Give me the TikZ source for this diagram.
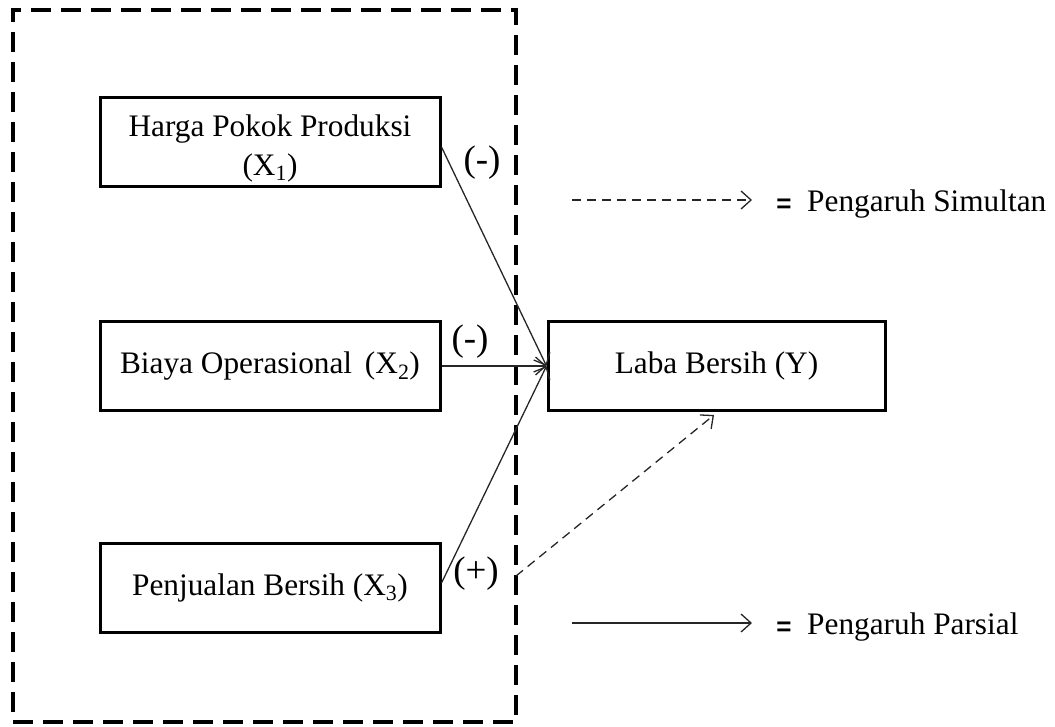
\documentclass[tikz,border=0pt]{standalone}
\usepackage{fontspec}
\setmainfont{Liberation Serif}
\newfontfamily\eqfont{Liberation Sans}
\usetikzlibrary{arrows.meta}
\begin{document}
\begin{tikzpicture}[x=1pt,y=-1pt,
  every node/.style={font=\fontsize{31.3}{39}\selectfont},
  varbox/.style={draw=black, line width=3pt, rectangle, minimum width=340pt, minimum height=89pt, align=center, inner sep=0pt},
  frame/.style={draw=black, line width=4pt, dash pattern=on 20pt off 10pt, rectangle, inner sep=0pt},
  conn/.style={draw=black!85, line width=1.3pt, -{Straight Barb[length=10pt,width=18pt,line width=1.3pt]}},
  simconn/.style={conn, dash pattern=on 9pt off 6pt},
  lbl/.style={inner sep=0pt},
  sign/.style={inner sep=0pt, font=\fontsize{37}{40}\selectfont},
  eqsign/.style={font=\eqfont\bfseries\fontsize{26}{30}\selectfont, inner sep=0pt}]
\useasboundingbox (0,0) rectangle (1055,726);
\node[frame, minimum width=503pt, minimum height=712pt] (fr) at (264.5,366) {};
\node[varbox] (x1) at (270,142) {};
\node[align=center, inner sep=0pt] (x1t) at (270,148) {Harga Pokok Produksi\\(X\textsubscript{1})};
\node[varbox] (x2) at (270,366) {Biaya Operasional\hspace{5pt} (X\textsubscript{2})};
\node[varbox] (x3) at (270,587.5) {Penjualan Bersih (X\textsubscript{3})};
\node[varbox, minimum width=337pt] (y) at (716.5,366) {Laba Bersih (Y)};
\coordinate (s) at (516,576);
\coordinate (t) at (714,415);
\draw[conn] (x1.east |- 0,147) -- (y.west);
\draw[conn] (x2.east) -- (y.west);
\draw[conn] (x3.east |- 0,583) -- (y.west);
\draw[simconn] (s) -- (t);
\node[sign] (m1) at (482,163) {(-)};
\node[sign] (m2) at (470,342) {(-)};
\node[sign] (p3) at (476,574) {(+)};
% legend
\coordinate (la1) at (572,200);
\coordinate (lb1) at (752,200);
\coordinate (la2) at (572,623);
\coordinate (lb2) at (752,623);
\draw[simconn] (la1) -- (lb1);
\draw[conn] (la2) -- (lb2);
\node[eqsign] (e1) at (784,206) {=};
\node[lbl, anchor=west] (t1) at (807,204) {Pengaruh Simultan};
\node[eqsign] (e2) at (784,629) {=};
\node[lbl, anchor=west] (t2) at (807,627) {Pengaruh Parsial};
\end{tikzpicture}
\end{document}
